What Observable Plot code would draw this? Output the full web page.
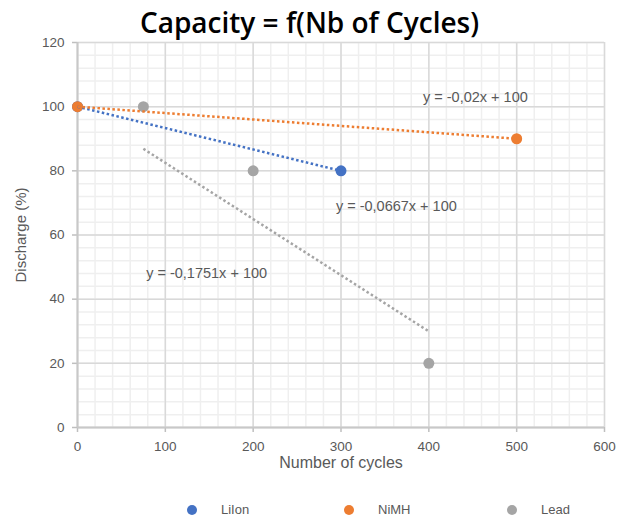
<!DOCTYPE html>
<html>
<head>
<meta charset="utf-8">
<script src="https://cdn.jsdelivr.net/npm/d3@7"></script>
<script src="https://cdn.jsdelivr.net/npm/@observablehq/plot@0.6"></script>
<style>
  html, body { margin: 0; padding: 0; background: #fff; }
  #wrap { position: relative; width: 629px; height: 519px; font-family: "Liberation Sans", Arial, sans-serif; }
  #title { position: absolute; left: 0; width: 619px; top: 3px; text-align: center; font-size: 28px; font-weight: 600; color: #000; font-family: "Open Sans", sans-serif; z-index: 2; }
  .leg { position: absolute; top: 502px; font-size: 13px; color: #595959; display: flex; align-items: center; }
  .leg span.dot { width: 10px; height: 10px; border-radius: 50%; display: inline-block; margin-right: 24px; }
  svg { position: absolute; left: 0; top: 0; }
</style>
</head>
<body>
<div id="wrap">
  <div id="title">Capacity = f(Nb of Cycles)</div>
</div>
<script>
// Series data
const seriesNames = ["LiIon", "NiMH", "Lead"];
const seriesColors = ["#4472C4", "#ED7D31", "#A5A5A5"];
const liionX = [0, 300];
const liionY = [100, 80];
const nimhX = [0, 500];
const nimhY = [100, 90];
const leadX = [75, 200, 400];
const leadY = [100, 80, 20];
// Trendline equations (from labels): y = slope*x + intercept
const trendSlopes = [-0.0667, -0.02, -0.1751];
const trendIntercept = 100;
const trendLabels = ["y = -0,0667x + 100", "y = -0,02x + 100", "y = -0,1751x + 100"];
const trendLabelX = [363, 453, 147];
const trendLabelY = [69, 103, 48];
// Axes
const xTicks = [0, 100, 200, 300, 400, 500, 600];
const yTicks = [0, 20, 40, 60, 80, 100, 120];
const xMinor = d3.range(0, 601, 20);
const yMinor = d3.range(0, 121, 4);

const xs = [liionX, nimhX, leadX];
const ys = [liionY, nimhY, leadY];
const points = seriesNames.flatMap((s, i) => xs[i].map((x, j) => ({series: s, x, y: ys[i][j], color: seriesColors[i]})));
const trends = seriesNames.flatMap((s, i) => {
  const lo = d3.min(xs[i]), hi = d3.max(xs[i]);
  return [lo, hi].map(x => ({series: s, x, y: trendSlopes[i] * x + trendIntercept, color: seriesColors[i]}));
});
const labels = trendLabels.map((t, i) => ({text: t, x: trendLabelX[i], y: trendLabelY[i]}));

const plot = Plot.plot({
  width: 629,
  height: 519,
  marginLeft: 77,
  marginRight: 25,
  marginTop: 42,
  marginBottom: 92,
  style: {fontFamily: "Liberation Sans, Arial, sans-serif", fontSize: "13px", background: "transparent"},
  x: {domain: [0, 600]},
  y: {domain: [0, 120]},
  marks: [
    Plot.gridX(xMinor, {stroke: "#efefef", strokeOpacity: 1, strokeWidth: 1.5}),
    Plot.gridY(yMinor, {stroke: "#efefef", strokeOpacity: 1, strokeWidth: 1.5}),
    Plot.gridX(xTicks, {stroke: "#d9d9d9", strokeOpacity: 1, strokeWidth: 1.5}),
    Plot.gridY(yTicks, {stroke: "#d9d9d9", strokeOpacity: 1, strokeWidth: 1.5}),
    Plot.axisX(xTicks, {tickSize: 5, tickPadding: 9, stroke: "#bfbfbf", fill: "#595959", label: null, fontSize: 13.5, strokeWidth: 1.5}),
    Plot.axisY(yTicks, {tickSize: 5, tickPadding: 8, stroke: "#bfbfbf", fill: "#595959", label: null, fontSize: 13.5, strokeWidth: 1.5}),
    Plot.ruleX([0], {stroke: "#c8c8c8", strokeWidth: 2}),
    Plot.ruleY([0], {stroke: "#c8c8c8", strokeWidth: 2}),
    Plot.dot(points, {x: "x", y: "y", fill: "color", r: 5.5, stroke: null}),
    Plot.line(trends, {x: "x", y: "y", z: "series", stroke: "color", strokeWidth: 2.5, strokeDasharray: "2.5,2.5", strokeLinecap: "butt"}),
    Plot.text(labels, {x: "x", y: "y", text: "text", fill: "#595959", fontSize: 14.5}),
    Plot.text(["Number of cycles"], {frameAnchor: "bottom", dy: 40, fill: "#595959", fontSize: 16}),
    Plot.text(["Discharge (%)"], {frameAnchor: "left", textAnchor: "middle", dx: -56, rotate: -90, fill: "#595959", fontSize: 15})
  ]
});
const wrap = document.getElementById("wrap");
wrap.insertBefore(plot, wrap.firstChild);

const legX = [187, 344, 507];
seriesNames.forEach((s, i) => {
  const d = document.createElement("div");
  d.className = "leg";
  d.style.left = legX[i] + "px";
  d.innerHTML = `<span class="dot" style="background:${seriesColors[i]}"></span>${s}`;
  wrap.appendChild(d);
});
</script>
</body>
</html>
